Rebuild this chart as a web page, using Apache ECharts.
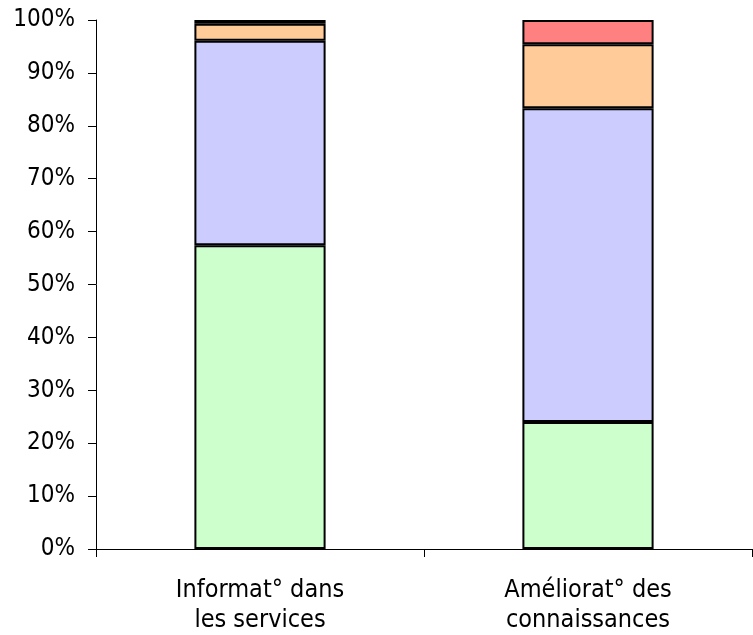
<!DOCTYPE html>
<html>
<head>
<meta charset="utf-8">
<script src="https://cdn.jsdelivr.net/npm/echarts@6/dist/echarts.min.js"></script>
<style>html,body{margin:0;padding:0;background:#fff;}#c{width:753px;height:635px;}</style>
</head>
<body>
<div id="c"></div>
<script>
var categories = ["Informat° dans\nles services", "Améliorat° des\nconnaissances"];
var serie1 = [57.4, 24.0];
var serie2 = [38.7, 59.3];
var serie3 = [3.2, 12.1];
var serie4 = [0.7, 4.6];
var colors = ["#CCFFCC", "#CCCCFF", "#FFCC99", "#FF8080"];
var yTicks = [0, 10, 20, 30, 40, 50, 60, 70, 80, 90, 100];

var font = "DejaVu Sans Condensed";
function mk(data, i) {
  return {
    type: "bar", stack: "s", data: data, barWidth: "40%",
    itemStyle: { color: colors[i], borderColor: "#000", borderWidth: 2 },
    animation: false
  };
}
var chart = echarts.init(document.getElementById("c"));
chart.setOption({
  animation: false,
  grid: { left: 96, right: 1, top: 20, bottom: 85 },
  xAxis: {
    type: "category", data: categories,
    axisLine: { lineStyle: { color: "#000", width: 1 } },
    axisTick: { show: true, length: 8, lineStyle: { color: "#000" } },
    axisLabel: { color: "#000", fontFamily: font, fontSize: 25, lineHeight: 30, margin: 26, interval: 0 }
  },
  yAxis: {
    type: "value", min: 0, max: 100, interval: 10,
    axisLine: { show: true, lineStyle: { color: "#000", width: 1 } },
    axisTick: { show: true, length: 8, lineStyle: { color: "#000" } },
    splitLine: { show: false },
    axisLabel: { color: "#000", fontFamily: font, fontSize: 24, margin: 21,
      formatter: function (v) { return yTicks.indexOf(v) >= 0 ? v + "%" : ""; } }
  },
  series: [mk(serie1, 0), mk(serie2, 1), mk(serie3, 2), mk(serie4, 3)]
});
</script>
</body>
</html>
